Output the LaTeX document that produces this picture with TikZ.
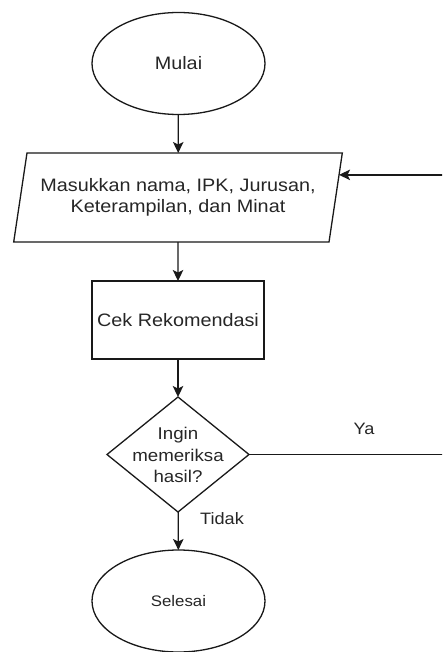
\documentclass[tikz,border=0pt]{standalone}
\usepackage{fontspec}
\setmainfont{Liberation Sans}[FakeStretch=1.1]
\usetikzlibrary{shapes.geometric,arrows.meta}
\begin{document}
\begin{tikzpicture}[x=1pt,y=-1pt,
  line width=1.3pt,
  every node/.style={text=black!85},
  conn/.style={draw=black!90, -{Stealth[length=11pt,width=10.5pt,inset=2.5pt]}},
  term/.style={ellipse, draw=black!90, minimum width=173pt, minimum height=102pt, inner sep=0pt, outer sep=0pt},
  io/.style={trapezium, trapezium left angle=72, trapezium right angle=108, trapezium stretches=true, draw=black!90, minimum width=330pt, minimum height=89pt, inner sep=0pt, outer sep=0pt, align=center},
  proc/.style={rectangle, draw=black!90, minimum width=172pt, minimum height=78pt, inner sep=0pt, outer sep=0pt},
  decision/.style={diamond, draw=black!90, minimum width=142pt, minimum height=115pt, inner sep=0pt, outer sep=0pt},
  main/.style={font=\fontsize{18}{20.5}\selectfont},
  lbl/.style={font=\fontsize{16.5}{19}\selectfont, inner sep=0pt}
]
\useasboundingbox (0,0) rectangle (442,652);
\clip (0,0) rectangle (442,652);
\node[term, main] (start) at (178.5,63.5) {Mulai};
\node[io, main] (input) at (178,197.5) {Masukkan nama, IPK, Jurusan,\\Keterampilan, dan Minat};
\node[proc, main] (check) at (178,320) {Cek Rekomendasi};
\node[decision] (dec) at (178,454.5) {};
\node[align=center, inner sep=0pt, font=\fontsize{17}{21.5}\selectfont] (decT) at (178,455) {Ingin\\memeriksa\\hasil?};
\node[term, font=\fontsize{15.3}{18}\selectfont] (stop) at (178.5,601) {Selesai};
\node[lbl] (ya) at (364,428.5) {Ya};
\node[lbl] (tidak) at (222,519) {Tidak};
\draw[conn] (start) -- (input);
\draw[conn] (input) -- (check);
\draw[conn] (check) -- (dec);
\draw[conn] (dec) -- (stop);
\draw[conn] (dec.east) -- (470,454.5) |- (input.8.1);
\end{tikzpicture}
\end{document}
